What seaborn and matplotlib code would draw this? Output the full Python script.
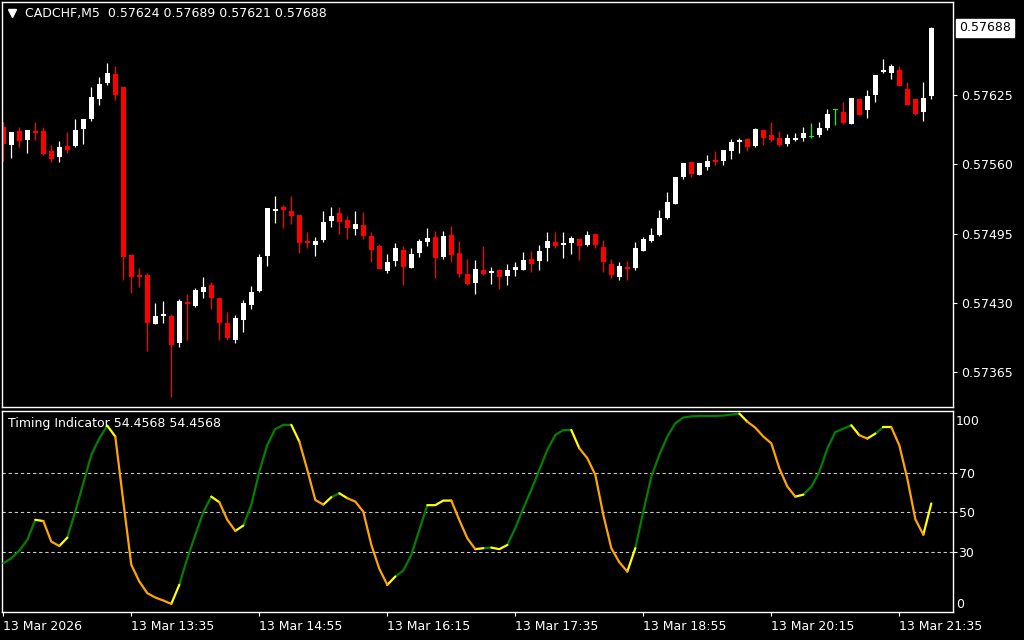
import numpy as np
import pandas as pd
import matplotlib
matplotlib.use("Agg")
import matplotlib.pyplot as plt
import seaborn as sns
from matplotlib.transforms import blended_transform_factory

# ---------------- data ----------------
symbol_title = "CADCHF,M5  0.57624 0.57689 0.57621 0.57688"
indicator_title = "Timing Indicator 54.4568 54.4568"

open_ = [0.57595, 0.57578, 0.57591, 0.57583, 0.57591, 0.57591, 0.57572, 0.57567, 0.57577, 0.57577,
         0.57593, 0.57602, 0.57621, 0.57636, 0.57645, 0.57632, 0.57475, 0.57456, 0.57456, 0.57410,
         0.57418, 0.57418, 0.57392, 0.57431, 0.57427, 0.57440, 0.57447, 0.57435, 0.57411, 0.57395,
         0.57414, 0.57428, 0.57441, 0.57474, 0.57516, 0.57520, 0.57516, 0.57512, 0.57488, 0.57484,
         0.57489, 0.57507, 0.57514, 0.57508, 0.57499, 0.57503, 0.57493, 0.57483, 0.57460, 0.57469,
         0.57480, 0.57463, 0.57477, 0.57487, 0.57492, 0.57473, 0.57494, 0.57477, 0.57457, 0.57449,
         0.57461, 0.57458, 0.57461, 0.57455, 0.57461, 0.57461, 0.57471, 0.57469, 0.57481, 0.57487,
         0.57484, 0.57486, 0.57490, 0.57484, 0.57495, 0.57482, 0.57466, 0.57454, 0.57464, 0.57463,
         0.57479, 0.57488, 0.57494, 0.57510, 0.57523, 0.57548, 0.57562, 0.57550, 0.57557, 0.57564,
         0.57563, 0.57572, 0.57581, 0.57584, 0.57577, 0.57592, 0.57587, 0.57585, 0.57579, 0.57583,
         0.57585, 0.57586, 0.57587, 0.57594, 0.57611, 0.57609, 0.57598, 0.57621, 0.57611, 0.57625,
         0.57647, 0.57646, 0.57648, 0.57631, 0.57621, 0.57609, 0.57624]
high = [0.57600, 0.57590, 0.57595, 0.57592, 0.57600, 0.57595, 0.57578, 0.57582, 0.57590, 0.57602,
        0.57602, 0.57632, 0.57642, 0.57655, 0.57652, 0.57632, 0.57476, 0.57463, 0.57458, 0.57430,
        0.57432, 0.57420, 0.57434, 0.57438, 0.57444, 0.57454, 0.57450, 0.57435, 0.57421, 0.57419,
        0.57433, 0.57446, 0.57476, 0.57519, 0.57530, 0.57522, 0.57530, 0.57512, 0.57496, 0.57492,
        0.57516, 0.57520, 0.57520, 0.57511, 0.57516, 0.57515, 0.57496, 0.57485, 0.57476, 0.57486,
        0.57483, 0.57481, 0.57490, 0.57500, 0.57497, 0.57497, 0.57502, 0.57488, 0.57471, 0.57470,
        0.57483, 0.57464, 0.57462, 0.57466, 0.57468, 0.57478, 0.57479, 0.57484, 0.57496, 0.57496,
        0.57496, 0.57493, 0.57491, 0.57497, 0.57495, 0.57489, 0.57471, 0.57468, 0.57469, 0.57487,
        0.57492, 0.57500, 0.57517, 0.57534, 0.57548, 0.57561, 0.57562, 0.57561, 0.57569, 0.57572,
        0.57573, 0.57584, 0.57585, 0.57584, 0.57594, 0.57592, 0.57600, 0.57591, 0.57588, 0.57589,
        0.57595, 0.57599, 0.57600, 0.57612, 0.57612, 0.57618, 0.57622, 0.57622, 0.57630, 0.57644,
        0.57659, 0.57654, 0.57652, 0.57637, 0.57621, 0.57637, 0.57689]
low = [0.57563, 0.57566, 0.57576, 0.57571, 0.57583, 0.57569, 0.57562, 0.57562, 0.57571, 0.57576,
       0.57579, 0.57601, 0.57616, 0.57634, 0.57620, 0.57451, 0.57439, 0.57445, 0.57385, 0.57410,
       0.57411, 0.57342, 0.57389, 0.57395, 0.57426, 0.57435, 0.57424, 0.57395, 0.57395, 0.57392,
       0.57403, 0.57424, 0.57440, 0.57465, 0.57505, 0.57500, 0.57504, 0.57477, 0.57481, 0.57474,
       0.57487, 0.57501, 0.57495, 0.57490, 0.57494, 0.57490, 0.57468, 0.57462, 0.57458, 0.57465,
       0.57447, 0.57463, 0.57473, 0.57483, 0.57453, 0.57471, 0.57468, 0.57454, 0.57447, 0.57438,
       0.57456, 0.57448, 0.57443, 0.57447, 0.57455, 0.57461, 0.57459, 0.57461, 0.57469, 0.57481,
       0.57472, 0.57476, 0.57470, 0.57483, 0.57481, 0.57459, 0.57453, 0.57451, 0.57451, 0.57461,
       0.57479, 0.57487, 0.57493, 0.57509, 0.57523, 0.57546, 0.57548, 0.57550, 0.57555, 0.57559,
       0.57559, 0.57565, 0.57571, 0.57572, 0.57576, 0.57578, 0.57581, 0.57577, 0.57577, 0.57582,
       0.57582, 0.57585, 0.57586, 0.57592, 0.57597, 0.57598, 0.57598, 0.57606, 0.57603, 0.57618,
       0.57646, 0.57640, 0.57633, 0.57616, 0.57606, 0.57601, 0.57621]
close = [0.57579, 0.57590, 0.57582, 0.57592, 0.57589, 0.57570, 0.57565, 0.57576, 0.57573, 0.57592,
         0.57602, 0.57623, 0.57635, 0.57646, 0.57625, 0.57473, 0.57454, 0.57454, 0.57411, 0.57418,
         0.57420, 0.57390, 0.57432, 0.57429, 0.57442, 0.57445, 0.57435, 0.57411, 0.57397, 0.57416,
         0.57430, 0.57440, 0.57473, 0.57519, 0.57518, 0.57517, 0.57511, 0.57486, 0.57486, 0.57488,
         0.57506, 0.57511, 0.57506, 0.57500, 0.57504, 0.57493, 0.57480, 0.57462, 0.57468, 0.57481,
         0.57464, 0.57476, 0.57488, 0.57491, 0.57472, 0.57493, 0.57475, 0.57457, 0.57448, 0.57462,
         0.57457, 0.57460, 0.57454, 0.57461, 0.57464, 0.57470, 0.57466, 0.57479, 0.57488, 0.57483,
         0.57486, 0.57491, 0.57483, 0.57494, 0.57484, 0.57468, 0.57456, 0.57465, 0.57462, 0.57481,
         0.57490, 0.57494, 0.57510, 0.57525, 0.57548, 0.57561, 0.57551, 0.57561, 0.57563, 0.57562,
         0.57573, 0.57581, 0.57583, 0.57576, 0.57593, 0.57585, 0.57583, 0.57578, 0.57585, 0.57585,
         0.57589, 0.57586, 0.57594, 0.57607, 0.57611, 0.57599, 0.57622, 0.57606, 0.57624, 0.57644,
         0.57648, 0.57652, 0.57633, 0.57616, 0.57607, 0.57622, 0.57688]

timing = [24.3, 26.8, 30.7, 36.1, 46.2, 45.6, 35.2, 33.0, 37.2, 50.4,
          64.6, 78.9, 87.3, 93.7, 88.2, 55.4, 23.5, 15.1, 9.2, 7.0,
          5.5, 3.8, 13.4, 26.8, 38.6, 50.0, 57.9, 55.1, 46.2, 40.6,
          43.3, 53.7, 70.5, 84.0, 92.0, 94.1, 94.1, 85.7, 71.4, 56.2,
          53.9, 57.6, 59.6, 57.1, 55.4, 50.3, 33.6, 21.5, 13.4, 17.6,
          20.6, 28.5, 41.1, 53.6, 53.6, 55.9, 55.9, 46.1, 36.9, 31.4,
          31.9, 32.2, 31.4, 33.5, 42.0, 52.0, 61.3, 71.4, 81.5, 89.0,
          91.5, 91.5, 82.3, 77.3, 68.9, 48.7, 31.9, 24.8, 20.1, 31.9,
          50.4, 68.0, 78.9, 88.2, 94.9, 97.8, 98.4, 98.6, 98.6, 98.6,
          98.8, 99.3, 99.8, 95.7, 92.7, 88.2, 84.8, 72.2, 63.0, 57.9,
          58.9, 62.8, 70.4, 82.1, 90.5, 92.2, 93.9, 88.9, 87.2, 89.7,
          92.9, 92.9, 83.8, 67.0, 46.5, 38.7, 54.4568]

# colour of each segment between consecutive bars: G=up, O=down, Y=turn
segment_tones = ("GGGG" "Y" "OO" "Y" "GGGGG" "Y" "OOOOOOO" "Y" "GGGG" "Y" "OO" "Y"
                 "GGGGGG" "Y" "OOO" "Y" "G" "Y" "OOOOO" "Y" "GGGG" "YYY" "OOO" "Y"
                 "G" "YY" "GGGGGGGG" "Y" "OOOOOO" "Y" "GGGGGGGGGGGGG" "Y" "OOOOOO" "Y"
                 "GGGGGG" "Y" "O" "Y" "G" "Y" "OOOO" "Y")

time_tick_bars = [0, 16, 32, 48, 64, 80, 96, 112]
time_tick_labels = ["13 Mar 2026", "13 Mar 13:35", "13 Mar 14:55", "13 Mar 16:15",
                    "13 Mar 17:35", "13 Mar 18:55", "13 Mar 20:15", "13 Mar 21:35"]
price_ticks = [0.57625, 0.57560, 0.57495, 0.57430, 0.57365]
last_price = 0.57688
level_lines = [70, 50, 30]
scale_max_label = "100"
scale_min_label = "0"

tone_palette = {"G": "#008000", "O": "#FFA500", "Y": "#FFFF00"}

# ---------------- style ----------------
sns.set_theme(style="dark", rc={
    "axes.facecolor": "black", "figure.facecolor": "black",
    "axes.edgecolor": "white", "text.color": "white",
    "xtick.color": "white", "ytick.color": "white",
    "axes.grid": False,
})
plt.rcParams["font.family"] = ["DejaVu Sans"]

W, H = 1024, 640
fig = plt.figure(figsize=(W / 100, H / 100), dpi=100, facecolor="black")
ax = fig.add_axes([2 / W, 1 - 407 / H, 951 / W, 405 / H])
ax2 = fig.add_axes([2 / W, 1 - 612 / H, 951 / W, 201 / H])

xlim = (-0.1625, 118.71)

# ---------------- candles ----------------
o = np.array(open_)
c = np.array(close)
hi = np.array(high)
lo = np.array(low)
xs = np.arange(len(o))
cols = np.where(c > o, "#FFFFFF", np.where(c < o, "#FF0000", "#00FF00"))
ax.vlines(xs, lo, hi, colors=cols, lw=0.9)
min_h = 0.0000095
body_bottom = np.minimum(o, c)
body_height = np.maximum(np.abs(c - o), min_h)
body_bottom = np.where(np.abs(c - o) < min_h, body_bottom - min_h / 2, body_bottom)
ax.bar(xs, body_height, bottom=body_bottom, width=0.66, color=cols, linewidth=0)

ax.set_xlim(*xlim)
ax.set_ylim(0.573323, 0.577122)
ax.set_xticks([])
ax.set_yticks(price_ticks)
ax.set_yticklabels([f"{p:.5f}" for p in price_ticks])
ax.tick_params(axis="y", left=False, labelleft=False, right=True, labelright=True,
               length=3, width=0.8, pad=2.5, labelsize=9, colors="white")
for s in ax.spines.values():
    s.set_color("white")
    s.set_linewidth(1.0)

trans = blended_transform_factory(ax.transAxes, ax.transData)
ax.text(1.0 + 6 / 951, last_price, f"{last_price:.5f}", transform=trans,
        ha="left", va="center", color="black", fontsize=9,
        bbox=dict(boxstyle="square,pad=0.22", fc="white", ec="white"))

ax.plot([10 / 951], [1 - 11 / 405], marker="v", ms=6, color="white",
        transform=ax.transAxes, clip_on=False)
fig.text(25 / W, 1 - 14 / H, symbol_title, ha="left", va="center",
         color="white", fontsize=9)

# ---------------- indicator ----------------
rows = []
run = 0
start = 0
nseg = len(segment_tones)
for i in range(1, nseg + 1):
    if i == nseg or segment_tones[i] != segment_tones[start]:
        for k in range(start, i + 1):
            rows.append((k, timing[k], run, segment_tones[start]))
        run += 1
        start = i
df = pd.DataFrame(rows, columns=["bar", "value", "run", "tone"])

for lv in level_lines:
    ax2.axhline(lv, color="#C8C8C8", lw=0.8, ls=(0, (3, 2.5)), zorder=1)

sns.lineplot(data=df, x="bar", y="value", hue="tone", units="run", estimator=None,
             sort=False, palette=tone_palette, legend=False, lw=1.6, ax=ax2, zorder=3)

ax2.set_xlim(*xlim)
ax2.set_ylim(-0.3, 101.1)
ax2.set_xlabel("")
ax2.set_ylabel("")
ax2.set_yticks(level_lines)
ax2.set_yticklabels([str(v) for v in level_lines])
ax2.tick_params(axis="y", left=False, labelleft=False, right=True, labelright=True,
                length=3, width=0.8, pad=1, labelsize=9, colors="white")
ax2.set_xticks(time_tick_bars)
ax2.set_xticklabels(time_tick_labels)
for lab in ax2.get_xticklabels():
    lab.set_ha("left")
ax2.tick_params(axis="x", bottom=True, labelbottom=True, length=3, width=0.8,
                pad=2.5, labelsize=9, colors="white")
for s in ax2.spines.values():
    s.set_color("white")
    s.set_linewidth(1.0)

fig.text(956 / W, 1 - 421.7 / H, scale_max_label, ha="left", va="center",
         color="white", fontsize=9)
fig.text(956 / W, 1 - 604.3 / H, scale_min_label, ha="left", va="center",
         color="white", fontsize=9)
fig.text(8 / W, 1 - 424 / H, indicator_title, ha="left", va="center",
         color="white", fontsize=9)

fig.savefig("out.png", dpi=100, facecolor="black")
